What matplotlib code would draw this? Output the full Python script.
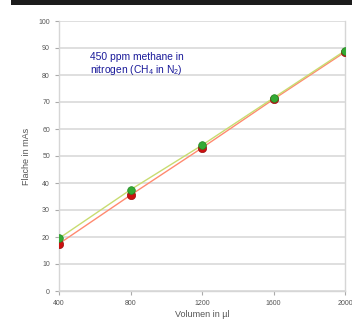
import matplotlib
matplotlib.use('Agg')
import matplotlib.pyplot as plt
from matplotlib.patches import Rectangle

# data
volumes = [400, 800, 1200, 1600, 2000]
area_red = [17.5, 35.5, 53.0, 71.0, 88.5]
area_green = [19.5, 37.5, 54.0, 71.5, 89.0]
yticks = list(range(0, 101, 10))

plt.rcParams['font.family'] = ['Liberation Sans', 'DejaVu Sans']
plt.rcParams['mathtext.fontset'] = 'custom'
plt.rcParams['mathtext.rm'] = 'Liberation Sans'
plt.rcParams['mathtext.it'] = 'Liberation Sans'

fig = plt.figure(figsize=(3.52, 3.26), dpi=100)
ax = fig.add_axes([59 / 352, 1 - 291 / 326, (345 - 59) / 352, (291 - 21) / 326])

# dark strip at the top of the screenshot
fig.patches.append(Rectangle((11 / 352, 1 - 5 / 326), 1, 5 / 326, transform=fig.transFigure,
                             facecolor='#1c1c1c', edgecolor='none'))

ax.plot(volumes, area_red, color='#ff8a70', lw=1.0, zorder=3)
ax.plot(volumes, area_green, color='#c8dc70', lw=1.0, zorder=3)
ax.plot(volumes, area_red, 'o', ms=6.0, color='#cc1010', mec='#991010', mew=0.5, zorder=4)
ax.plot(volumes, area_green, 'o', ms=5.5, color='#33aa33', mec='#228822', mew=0.5, zorder=5)

ax.set_xlim(400, 2000)
ax.set_ylim(0, 100)
ax.set_xticks(volumes)
ax.set_yticks(yticks)
ax.grid(axis='y', color='#d6d6d6', lw=1.1)
ax.set_axisbelow(True)

ax.spines['top'].set_visible(False)
for side in ['left', 'right', 'bottom']:
    ax.spines[side].set_color('#d6d6d6')
    ax.spines[side].set_linewidth(1.0)

ax.tick_params(axis='both', labelsize=5, colors='#aaaaaa', labelcolor='#555555', length=3, width=0.8)

ax.set_xlabel('Volumen in µl', fontsize=6.5, color='#555555', labelpad=2)
ax.set_ylabel('Flache in mAs', fontsize=6.5, color='#555555', labelpad=5)

ax.text(0.107, 0.885, '450 ppm methane in\nnitrogen (CH$_4$ in N$_2$)', transform=ax.transAxes,
        fontsize=7.4, color='#1a1a9a', va='top', ha='left', linespacing=1.05)

fig.savefig('out.png', dpi=100)
